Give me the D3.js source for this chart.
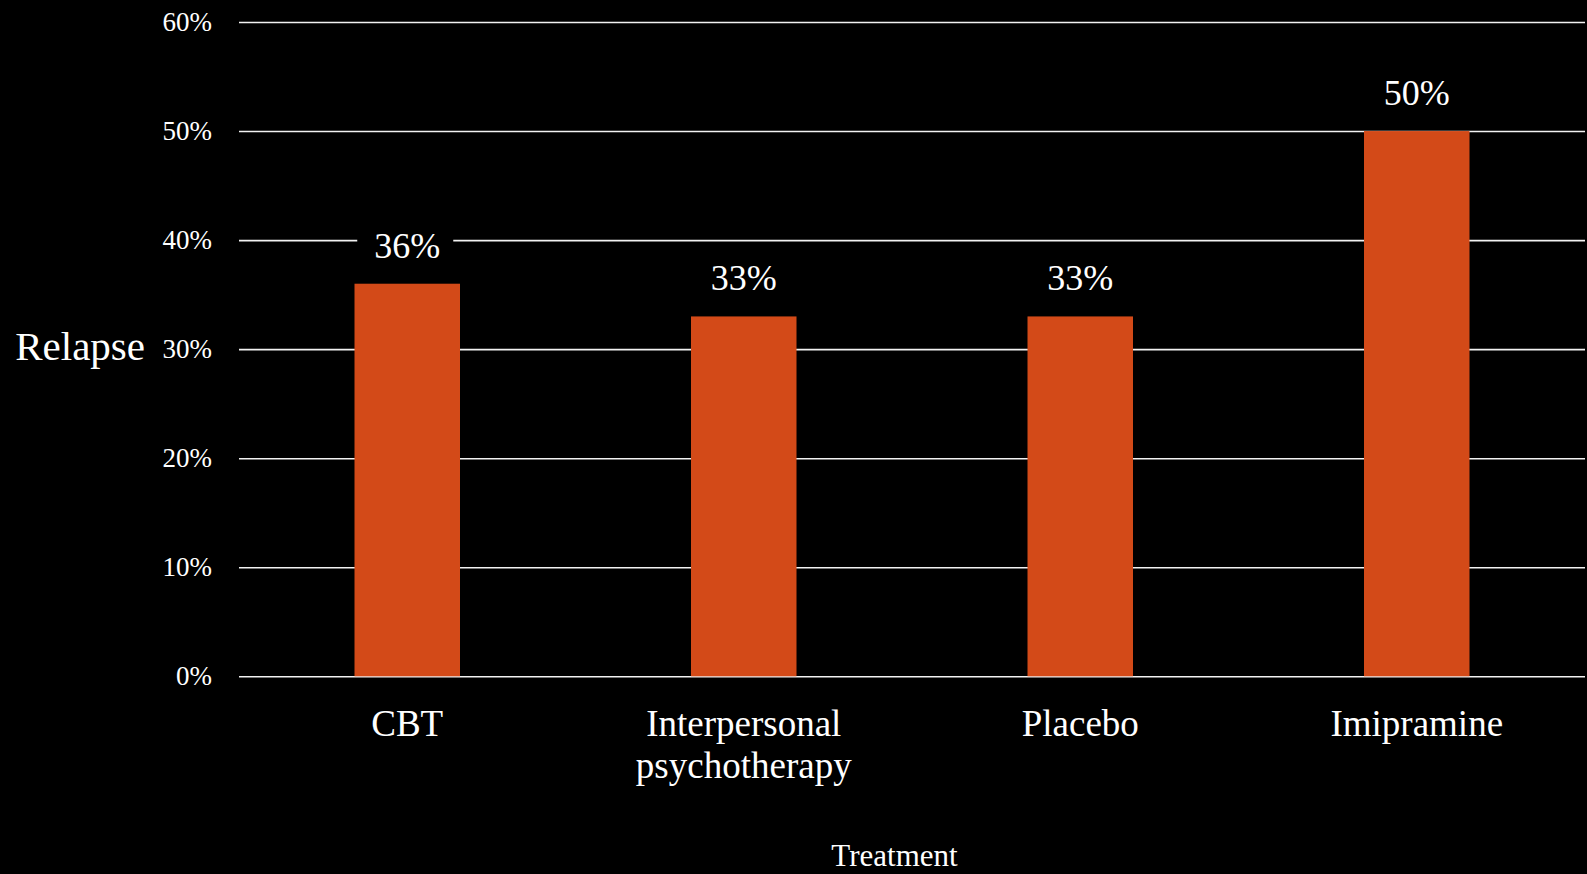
<!DOCTYPE html>
<html>
<head>
<meta charset="utf-8">
<script src="https://cdn.jsdelivr.net/npm/d3@7"></script>
<style>
  html, body { margin: 0; padding: 0; background: #000; }
  svg { display: block; }
  text { font-family: "Liberation Serif", "Times New Roman", serif; fill: #fff; }
</style>
</head>
<body>
<svg id="chart" width="1587" height="874"></svg>
<script>
// ---- data ----
const categories = ["CBT", "Interpersonal psychotherapy", "Placebo", "Imipramine"];
const categoryLines = [["CBT"], ["Interpersonal", "psychotherapy"], ["Placebo"], ["Imipramine"]];
const relapse = [0.36, 0.33, 0.33, 0.50];
const yTicks = [0, 0.1, 0.2, 0.3, 0.4, 0.5, 0.6];
const yLabel = "Relapse";
const xLabel = "Treatment";

// ---- layout ----
const W = 1587, H = 874;
const plotLeft = 239, plotRight = 1585, plotTop = 22, plotBottom = 676.3;
const barColor = "#D34A18";

const svg = d3.select("#chart");
svg.append("rect").attr("width", W).attr("height", H).attr("fill", "#000");

const x = d3.scaleBand().domain(categories).range([plotLeft, plotRight])
  .paddingInner(0.6865).paddingOuter(0.34325);
const y = d3.scaleLinear().domain([0, 0.6]).range([plotBottom, plotTop]);

// gridlines + y tick labels
const yAxis = d3.axisLeft(y).tickValues(yTicks).tickFormat(d3.format(".0%"))
  .tickSize(-(plotRight - plotLeft)).tickPadding(27);
const gy = svg.append("g").attr("transform", `translate(${plotLeft},0)`).call(yAxis);
gy.attr("font-family", null).attr("font-size", null);
gy.select(".domain").remove();
gy.selectAll(".tick line").attr("stroke", "#f2f2f2").attr("stroke-width", 1.6);
gy.selectAll(".tick text").attr("fill", "#fff").style("font-size", "27px")
  .attr("dy", "0.3em");

// bars
svg.append("g").selectAll("rect").data(relapse).join("rect")
  .attr("x", (d, i) => x(categories[i]))
  .attr("width", x.bandwidth())
  .attr("y", d => y(d))
  .attr("height", d => y(0) - y(d))
  .attr("fill", barColor);

// value labels with black backing box
const lab = svg.append("g").selectAll("g").data(relapse).join("g");
lab.append("rect")
  .attr("x", (d, i) => x(categories[i]) + x.bandwidth() / 2 - 50)
  .attr("width", 96)
  .attr("y", d => y(d) - 54)
  .attr("height", 36)
  .attr("fill", "#000");
lab.append("text")
  .attr("x", (d, i) => x(categories[i]) + x.bandwidth() / 2)
  .attr("y", d => y(d) - 26)
  .attr("text-anchor", "middle")
  .style("font-size", "36px")
  .text(d => d3.format(".0%")(d));

// x axis category labels
const xAxis = d3.axisBottom(x).tickSize(0).tickFormat("");
const gx = svg.append("g").attr("transform", `translate(0,${plotBottom})`).call(xAxis);
gx.attr("font-family", null).attr("font-size", null);
gx.select(".domain").remove();
gx.selectAll(".tick").each(function(d, i) {
  const t = d3.select(this).append("text")
    .attr("text-anchor", "middle")
    .style("font-size", "37px");
  categoryLines[i].forEach((line, j) => {
    t.append("tspan").attr("x", 0).attr("y", 59.5 + j * 42.5).text(line);
  });
});

// axis titles
svg.append("text").attr("x", 145).attr("y", 360).attr("text-anchor", "end")
  .style("font-size", "41px").text(yLabel);
svg.append("text").attr("x", 894.5).attr("y", 866).attr("text-anchor", "middle")
  .style("font-size", "31px").text(xLabel);
</script>
</body>
</html>
